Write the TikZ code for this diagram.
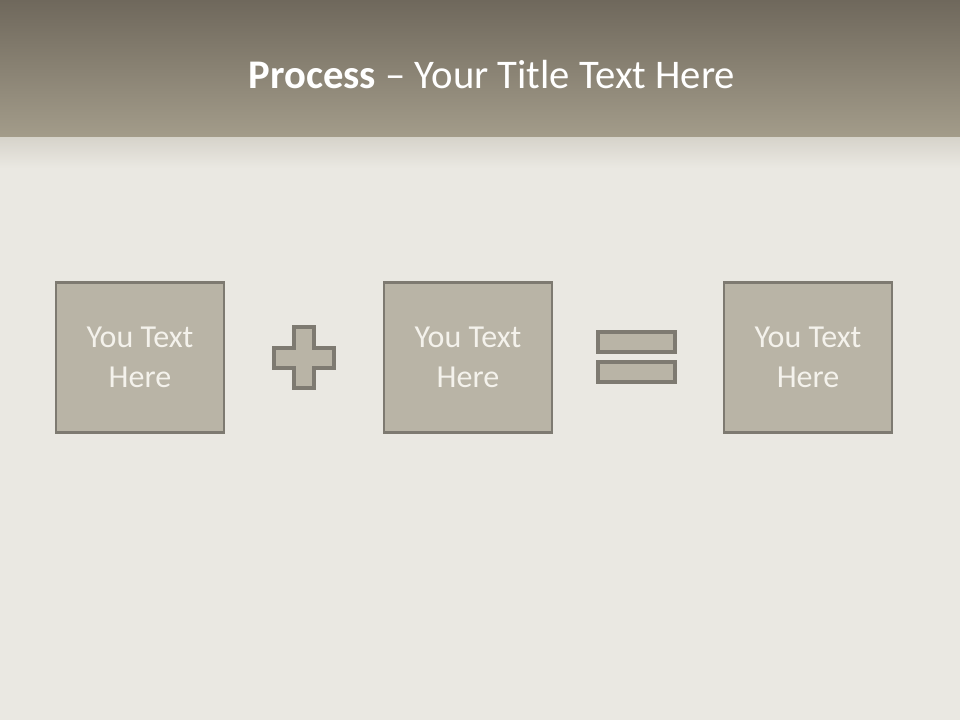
\documentclass[tikz,border=0pt]{standalone}
\usepackage{fontspec}
\setmainfont{Carlito}
\usetikzlibrary{positioning}
\definecolor{bandtop}{HTML}{6F685C}
\definecolor{bandbot}{HTML}{A39C8A}
\definecolor{cloth}{HTML}{EAE8E2}
\definecolor{clothdark}{HTML}{D6D3CA}
\definecolor{boxfill}{HTML}{B9B4A6}
\definecolor{boxline}{HTML}{7E7A71}
\definecolor{boxtext}{HTML}{F4F2EC}
\begin{document}
\begin{tikzpicture}[x=0.75pt, y=-0.75pt, line join=miter,
    stepbox/.style={draw=boxline, fill=boxfill, line width=2.2pt, minimum width=126pt, minimum height=112pt, inner sep=0pt, align=center, text=boxtext, font=\fontsize{24}{30}\selectfont},
    sign/.style={draw=boxline, fill=boxfill, line width=2.4pt}]
  % background
  \fill[cloth] (0,0) rectangle (960,720);
  \shade[top color=clothdark, bottom color=cloth] (0,137) rectangle (960,168);
  \shade[top color=bandtop, bottom color=bandbot] (0,0) rectangle (960,137);
  \useasboundingbox (0,0) rectangle (960,720);
  % title
  \node[text=white, font=\fontsize{30.5}{34}\selectfont] (title) at (492,75) {\textbf{Process} -- Your Title Text Here};
  % boxes
  \node[stepbox] (first) at (140,357.5) {You Text\\Here};
  \node[stepbox] (second) at (468,357.5) {You Text\\Here};
  \node[stepbox] (result) at (808,357.5) {You Text\\Here};
  % plus
  \draw[sign] (294,327) -- (314,327) -- (314,348) -- (334,348) -- (334,368) -- (314,368)
    -- (314,388) -- (294,388) -- (294,368) -- (274,368) -- (274,348) -- (294,348) -- cycle;
  % equals
  \draw[sign] (598,332) rectangle (675,352);
  \draw[sign] (598,362) rectangle (675,382);
\end{tikzpicture}
\end{document}
